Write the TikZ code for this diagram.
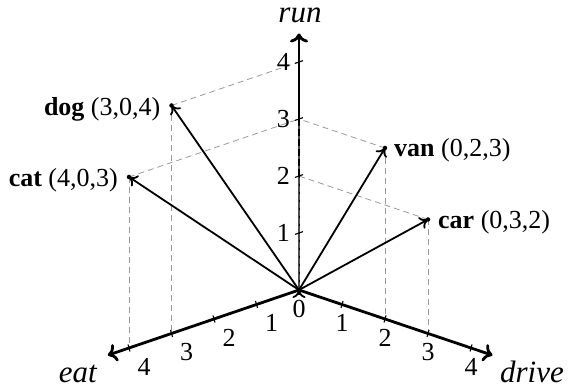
\documentclass[tikz,border=0pt]{standalone}
\usepackage{fontspec}
\setmainfont{Liberation Serif}
\usetikzlibrary{arrows.meta}
\begin{document}
\begin{tikzpicture}[x=1pt,y=1pt,
  lab/.style={font=\fontsize{26}{30}\selectfont, inner sep=0pt},
  axlab/.style={font=\fontsize{31}{36}\selectfont\itshape, inner sep=0pt},
  axisline/.style={line width=2.8pt, -{To[length=9pt,width=18pt]}},
  vec/.style={line width=1.8pt, -{To[length=8pt,width=13pt]}},
  proj/.style={gray!80, line width=0.8pt, dash pattern=on 6pt off 4pt},
  tickmark/.style={line width=1.1pt},
  dotmark/.style={fill=black, circle, inner sep=0pt, minimum size=4.5pt}]
\useasboundingbox (0,0) rectangle (571,390);
% axis labels (absolute positions)
\node[axlab, anchor=base] (lrun) at (300,367) {run};
\node[axlab, anchor=base east] (leat) at (97,7) {eat};
\node[axlab, anchor=base] (ldrive) at (532,7) {drive};
\begin{scope}[shift={(299,100)}, x={(-42.5pt,-14.5pt)}, y={(43pt,-14.5pt)}, z={(0pt,57pt)}]
  % coordinates
  \coordinate (O) at (0,0,0);
  \coordinate (Eend) at (4.5,0,0);
  \coordinate (Dend) at (0,4.5,0);
  \coordinate (Rend) at (0,0,4.5);
  \coordinate (dog) at (3,0,4);
  \coordinate (cat) at (4,0,3);
  \coordinate (van) at (0,2,3);
  \coordinate (car) at (0,3,2);
  \foreach \k in {1,2,3,4}{
    \coordinate (E\k) at (\k,0,0);
    \coordinate (D\k) at (0,\k,0);
    \coordinate (R\k) at (0,0,\k);
  }
  % projection lines
  \draw[proj] (dog) -- (E3);
  \draw[proj] (dog) -- (R4);
  \draw[proj] (cat) -- (E4);
  \draw[proj] (cat) -- (R3);
  \draw[proj] (van) -- (D2);
  \draw[proj] (van) -- (R3);
  \draw[proj] (car) -- (D3);
  \draw[proj] (car) -- (R2);
  % axes
  \draw[axisline] (O) -- (Eend);
  \draw[axisline] (O) -- (Dend);
  \draw[axisline] (O) -- (Rend);
  % overlay on run axis
  \draw[gray!60!black, line width=2.8pt] (O) -- (R3);
  \draw[black, line width=1.2pt, dash pattern=on 7pt off 3pt] (R2) -- (R3);
  \draw[black, line width=0.9pt, dash pattern=on 2pt off 6pt] (O) -- (R2);
  % ticks
  \foreach \k in {1,2,3,4}{
    \draw[tickmark] (E\k) ++(-1pt,3.5pt) -- ++(2pt,-7pt);
    \draw[tickmark] (D\k) ++(1pt,3.5pt) -- ++(-2pt,-7pt);
    \draw[tickmark] (R\k) ++(-4pt,-1.4pt) -- ++(8pt,2.8pt);
  }
  % tick labels
  \node[lab] (t0) at ([yshift=-19pt]O) {0};
  \foreach \k in {1,2,3,4}{
    \node[lab] (te\k) at ([xshift=15pt,yshift=-18.5pt]E\k) {\k};
    \node[lab] (td\k) at ([yshift=-18.5pt]D\k) {\k};
    \node[lab, anchor=east] (tr\k) at ([xshift=-9pt]R\k) {\k};
  }
  % vectors
  \draw[vec] ([yshift=-5pt]O) -- (O);
  \draw[vec] (O) -- (dog);
  \draw[vec] (O) -- (cat);
  \draw[vec] (O) -- (van);
  \draw[vec] (O) -- (car);
  \foreach \p in {dog,cat,van,car}{
    \node[dotmark] (dot\p) at (\p) {};
  }
  % labels
  \node[lab, anchor=base east] (ldog) at ([xshift=-11pt,yshift=-10pt]dog) {\textbf{dog} (3,0,4)};
  \node[lab, anchor=base east] (lcat) at ([xshift=-11pt,yshift=-10pt]cat) {\textbf{cat} (4,0,3)};
  \node[lab, anchor=base west] (lvan) at ([xshift=9pt,yshift=-8.5pt]van) {\textbf{van} (0,2,3)};
  \node[lab, anchor=base west] (lcar) at ([xshift=10pt,yshift=-9pt]car) {\textbf{car} (0,3,2)};
\end{scope}
\end{tikzpicture}
\end{document}
